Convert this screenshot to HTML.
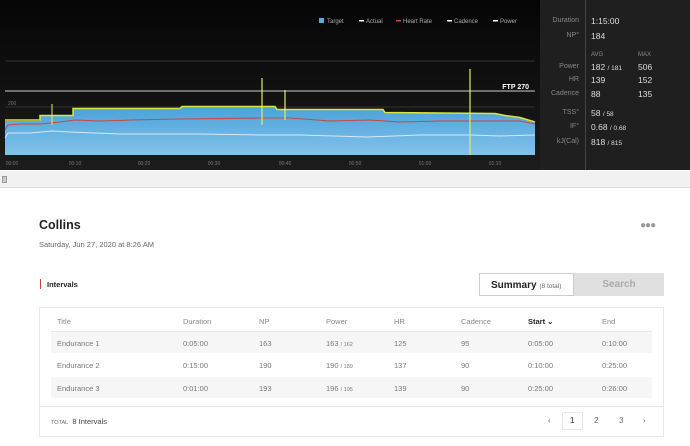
<!DOCTYPE html>
<html><head><meta charset="utf-8"><style>
*{margin:0;padding:0;box-sizing:border-box}
body{width:690px;height:446px;background:#fff;font-family:"Liberation Sans",sans-serif;position:relative;overflow:hidden}
.abs{position:absolute}
.sb{color:#888;font-size:7px;text-align:right;width:40px}
.sv{color:#ddd;font-size:8.5px}
.th{color:#888;font-size:7.5px}
.td{color:#777;font-size:7.5px}
</style></head><body>
<div class="abs" style="left:0;top:0;width:540px;height:170px;background:linear-gradient(#050505,#1c1c1c)"></div>
<div class="abs" style="left:540px;top:0;width:150px;height:170px;background:#1f1f1f"></div>
<div class="abs" style="left:585px;top:0;width:1px;height:170px;background:#444"></div>
<svg class="abs" style="left:0;top:0" width="540" height="170">
<defs><linearGradient id="g" x1="0" y1="0" x2="0" y2="1"><stop offset="0" stop-color="#4aa2da"/><stop offset="1" stop-color="#82c2ea"/></linearGradient></defs>
<line x1="5" y1="61" x2="535" y2="61" stroke="#333" stroke-width="1"/>
<line x1="5" y1="107" x2="535" y2="107" stroke="#333" stroke-width="1"/>
<path d="M5 121 L40 121 L40 116 L73 116 L73 109 L180 109 L182 107 L275 107 L277 110 L383 110 L385 113 L495 114 L505 116 L520 118 L535 123 L535 155 L5 155Z" fill="url(#g)"/>
<path d="M5 120 L40 120 L40 115.5 L73 115.5 L73 108.5 L180 108.5 L182 106.5 L275 106.5 L277 109.5 L383 109.5 L385 112.5 L495 113.5 L505 115.5 L520 117.5 L535 122" fill="none" stroke="#d8e83a" stroke-width="1.5"/>
<line x1="5" y1="91" x2="535" y2="91" stroke="#ccc" stroke-width="1"/>
<path d="M5 130 L8 125 L20 124 L40 124 L60 122 L75 120 L100 121 L130 120 L180 119 L260 118 L290 118 L330 121 L370 120 L400 122 L440 121 L480 121 L520 121 L535 124" fill="none" stroke="#d0443a" stroke-width="1"/>
<path d="M5 138 L8 133 L30 133 L52 131 L70 132 L120 134 L200 134 L262 135 L300 135 L367 137 L420 135 L470 135 L500 136 L535 135" fill="none" stroke="#d8e8f0" stroke-width="1"/>
<line x1="262" y1="78" x2="262" y2="125" stroke="#e0ee60" stroke-width="1.2"/>
<line x1="285" y1="90" x2="285" y2="120" stroke="#e0ee60" stroke-width="1.2"/>
<line x1="470" y1="69" x2="470" y2="155" stroke="#e0ee60" stroke-width="1.2"/>
<line x1="52" y1="104" x2="52" y2="125" stroke="#e0ee60" stroke-width="1"/>
<text x="8" y="105" fill="#777" font-size="5" font-family="Liberation Sans">200</text>
<text x="529" y="89" fill="#fff" font-size="7" font-weight="bold" text-anchor="end" font-family="Liberation Sans">FTP 270</text>
<g fill="#777" font-size="5" font-family="Liberation Sans" text-anchor="middle">
<text x="12" y="165">00:00</text><text x="75" y="165">00:10</text><text x="144" y="165">00:20</text><text x="214" y="165">00:30</text><text x="285" y="165">00:40</text><text x="355" y="165">00:50</text><text x="425" y="165">01:00</text><text x="495" y="165">01:10</text></g>
<g font-size="6" fill="#aaa" font-family="Liberation Sans">
<rect x="319" y="18" width="5" height="5" fill="#5aacdf"/><text x="327" y="23">Target</text>
<rect x="359" y="20" width="5" height="1.5" fill="#fff"/><text x="366" y="23">Actual</text>
<rect x="396" y="20" width="5" height="1.5" fill="#d0443a"/><text x="403" y="23">Heart Rate</text>
<rect x="447" y="20" width="5" height="1.5" fill="#fff"/><text x="454" y="23">Cadence</text>
<rect x="493" y="20" width="5" height="1.5" fill="#fff"/><text x="500" y="23">Power</text></g>
</svg>
<div class="abs sb" style="left:539px;top:17px">Duration</div><div class="abs sv" style="left:591px;top:16px">1:15:00</div>
<div class="abs sb" style="left:539px;top:32px">NP°</div><div class="abs sv" style="left:591px;top:31px">184</div>
<div class="abs th" style="left:591px;top:52px;font-size:6px">AVG</div><div class="abs th" style="left:638px;top:52px;font-size:6px">MAX</div>
<div class="abs sb" style="left:539px;top:63px">Power</div><div class="abs sv" style="left:591px;top:62px">182 <span style="font-size:6.5px">/ 181</span></div><div class="abs sv" style="left:638px;top:62px">506</div>
<div class="abs sb" style="left:539px;top:76px">HR</div><div class="abs sv" style="left:591px;top:75px">139</div><div class="abs sv" style="left:638px;top:75px">152</div>
<div class="abs sb" style="left:539px;top:90px">Cadence</div><div class="abs sv" style="left:591px;top:89px">88</div><div class="abs sv" style="left:638px;top:89px">135</div>
<div class="abs sb" style="left:539px;top:109px">TSS°</div><div class="abs sv" style="left:591px;top:108px">58 <span style="font-size:6.5px">/ 58</span></div>
<div class="abs sb" style="left:539px;top:123px">IF°</div><div class="abs sv" style="left:591px;top:122px">0.68 <span style="font-size:6.5px">/ 0.68</span></div>
<div class="abs sb" style="left:539px;top:138px">kJ(Cal)</div><div class="abs sv" style="left:591px;top:137px">818 <span style="font-size:6.5px">/ 815</span></div>
<div class="abs" style="left:0;top:171px;width:690px;height:17px;background:#f1f1f1;border-bottom:1px solid #ddd"></div>
<div class="abs" style="left:2px;top:176px;width:5px;height:7px;background:#ccc;border:1px solid #999"></div>
<div class="abs" style="left:39px;top:218px;font-size:12.5px;font-weight:bold;color:#222">Collins</div>
<div class="abs" style="left:39px;top:240px;font-size:7.5px;color:#666">Saturday, Jun 27, 2020 at 8:26 AM</div>
<div class="abs" style="left:640px;top:220px;font-size:10px;color:#999;letter-spacing:-1px">●●●</div>
<div class="abs" style="left:40px;top:279px;width:1px;height:10px;background:#d0443a"></div>
<div class="abs" style="left:47px;top:280px;font-size:7.5px;font-weight:bold;color:#222">Intervals</div>
<div class="abs" style="left:479px;top:273px;width:95px;height:23px;border:1px solid #ccc;background:#fff;font-size:10px;font-weight:bold;color:#222;padding:6px 0 0 11px">Summary <span style="font-size:6.5px;font-weight:normal;color:#666">(8 total)</span></div>
<div class="abs" style="left:574px;top:273px;width:90px;height:23px;background:#e0e0e0;font-size:10px;font-weight:bold;color:#aaa;text-align:center;padding-top:6px">Search</div>
<div class="abs" style="left:39px;top:307px;width:625px;height:130px;border:1px solid #e6e6e6"></div>
<div class="abs" style="left:51px;top:331px;width:601px;height:1px;background:#e6e6e6"></div>
<div class="abs" style="left:51px;top:332px;width:601px;height:21px;background:#f6f6f6"></div>
<div class="abs" style="left:51px;top:377px;width:601px;height:21px;background:#f6f6f6"></div>
<div class="abs" style="left:39px;top:406px;width:625px;height:1px;background:#e6e6e6"></div>
<div class="abs" style="font-size:7.5px;color:#888;top:317px;left:0;width:690px">
<span class="abs" style="left:57px">Title</span><span class="abs" style="left:183px">Duration</span><span class="abs" style="left:259px">NP</span><span class="abs" style="left:326px">Power</span><span class="abs" style="left:394px">HR</span><span class="abs" style="left:461px">Cadence</span><span class="abs" style="left:528px;color:#222;font-weight:bold">Start ⌄</span><span class="abs" style="left:602px">End</span></div>
<div class="abs td" style="top:339px;left:0;width:690px"><span class="abs" style="left:57px">Endurance 1</span><span class="abs" style="left:183px">0:05:00</span><span class="abs" style="left:259px">163</span><span class="abs" style="left:326px">163 <small style="font-size:5.5px">/ 162</small></span><span class="abs" style="left:394px">125</span><span class="abs" style="left:461px">95</span><span class="abs" style="left:528px">0:05:00</span><span class="abs" style="left:602px">0:10:00</span></div>
<div class="abs td" style="top:361px;left:0;width:690px"><span class="abs" style="left:57px">Endurance 2</span><span class="abs" style="left:183px">0:15:00</span><span class="abs" style="left:259px">190</span><span class="abs" style="left:326px">190 <small style="font-size:5.5px">/ 189</small></span><span class="abs" style="left:394px">137</span><span class="abs" style="left:461px">90</span><span class="abs" style="left:528px">0:10:00</span><span class="abs" style="left:602px">0:25:00</span></div>
<div class="abs td" style="top:384px;left:0;width:690px"><span class="abs" style="left:57px">Endurance 3</span><span class="abs" style="left:183px">0:01:00</span><span class="abs" style="left:259px">193</span><span class="abs" style="left:326px">196 <small style="font-size:5.5px">/ 195</small></span><span class="abs" style="left:394px">139</span><span class="abs" style="left:461px">90</span><span class="abs" style="left:528px">0:25:00</span><span class="abs" style="left:602px">0:26:00</span></div>
<div class="abs" style="left:51px;top:417px;font-size:7.5px;color:#444"><span style="font-size:5.5px;color:#666">TOTAL</span>&nbsp; 8 Intervals</div>
<div class="abs" style="left:562px;top:412px;width:21px;height:18px;border:1px solid #e6e6e6"></div>
<div class="abs" style="top:416px;font-size:8px;color:#666;left:0;width:690px"><span class="abs" style="left:548px">‹</span><span class="abs" style="left:570px;color:#333">1</span><span class="abs" style="left:594px">2</span><span class="abs" style="left:619px">3</span><span class="abs" style="left:643px">›</span></div>
</body></html>
